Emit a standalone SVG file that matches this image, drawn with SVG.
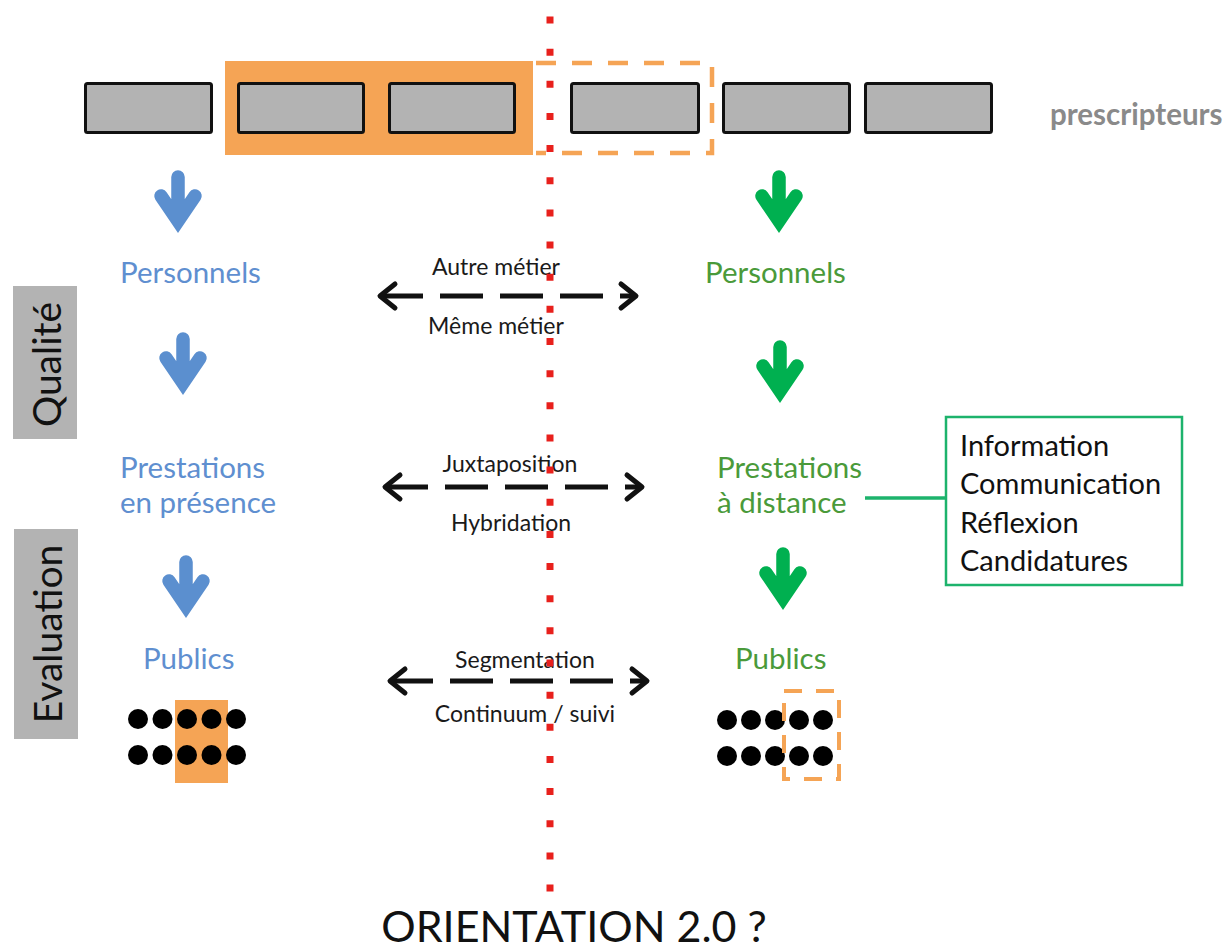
<svg xmlns="http://www.w3.org/2000/svg" width="1229" height="951" viewBox="0 0 1229 951">
<style>
.t{font-family:Lato,"Open Sans","Liberation Sans",sans-serif}
.blue{fill:#5f8fd0}
.green{fill:#4a9a3a}
.col{font-size:29.5px}
.mid{font-size:23px;fill:#1a1a1a;text-anchor:middle}
.box{font-size:29px;fill:#111}
.side{font-size:39px;fill:#111;text-anchor:middle}
.gray{fill:#b3b3b3;stroke:#111;stroke-width:3}
.dash{stroke:#111;stroke-width:5;fill:none}
.head{stroke:#111;stroke-width:5;fill:none;stroke-linejoin:round;stroke-linecap:round}
</style>
<defs>
<path id="dn" d="M0,-56 L0,-16 M-17,-37 L0,-12 L17,-37" fill="none" stroke-width="13.5" stroke-linecap="round" stroke-linejoin="miter"/>
</defs>
<rect width="1229" height="951" fill="#fff"/>

<g id="prescripteurs">
<rect x="225" y="61" width="308" height="94" fill="#f5a455"/>
<path d="M536,63 H712 V153 H536" fill="none" stroke="#f5a455" stroke-width="4.5" stroke-dasharray="20 16"/>
<rect class="gray" x="85.5" y="83.5" width="126" height="49" rx="2"/>
<rect class="gray" x="238.5" y="83.5" width="125" height="49" rx="2"/>
<rect class="gray" x="389.5" y="83.5" width="125" height="49" rx="2"/>
<rect class="gray" x="571.5" y="83.5" width="127" height="49" rx="2"/>
<rect class="gray" x="723.5" y="83.5" width="126" height="49" rx="2"/>
<rect class="gray" x="865.5" y="83.5" width="126" height="49" rx="2"/>
<text class="t" x="1050" y="125" font-size="29.5" font-weight="bold" fill="#8a8a8a">prescripteurs</text>
</g>

<g id="qualite">
<rect x="13" y="286" width="64" height="153" fill="#b3b3b3"/>
<text class="t side" transform="translate(61,364.5) rotate(-90)">Qualité</text>
</g>
<g id="evaluation">
<rect x="14" y="529" width="64" height="210" fill="#b3b3b3"/>
<text class="t side" transform="translate(62,634) rotate(-90)">Evaluation</text>
</g>

<g id="left-personnels"><text class="t col blue" x="120" y="283">Personnels</text></g>
<g id="left-prestations"><text class="t col blue" x="120" y="478">Prestations</text><text class="t col blue" x="120" y="513">en présence</text></g>
<g id="left-publics">
<text class="t col blue" x="143" y="669">Publics</text>
<rect x="175" y="700" width="53" height="83" fill="#f5a455"/>
<g fill="#000">
<circle cx="138" cy="719" r="10"/><circle cx="162.5" cy="719" r="10"/><circle cx="187" cy="719" r="10"/><circle cx="211.5" cy="719" r="10"/><circle cx="236" cy="719" r="10"/>
<circle cx="138" cy="755" r="10"/><circle cx="162.5" cy="755" r="10"/><circle cx="187" cy="755" r="10"/><circle cx="211.5" cy="755" r="10"/><circle cx="236" cy="755" r="10"/>
</g>
</g>

<g id="right-personnels"><text class="t col green" x="705" y="283">Personnels</text></g>
<g id="right-prestations"><text class="t col green" x="717" y="478">Prestations</text><text class="t col green" x="717" y="513">à distance</text></g>
<g id="right-publics">
<text class="t col green" x="735" y="669">Publics</text>
<g fill="#000">
<circle cx="727" cy="720" r="10"/><circle cx="751" cy="720" r="10"/><circle cx="775" cy="720" r="10"/><circle cx="799" cy="720" r="10"/><circle cx="823" cy="720" r="10"/>
<circle cx="727" cy="756" r="10"/><circle cx="751" cy="756" r="10"/><circle cx="775" cy="756" r="10"/><circle cx="799" cy="756" r="10"/><circle cx="823" cy="756" r="10"/>
</g>
<rect x="784" y="691" width="55" height="88" fill="none" stroke="#f5a455" stroke-width="4" stroke-dasharray="18 14"/>
</g>

<g id="activites">
<rect x="946" y="417" width="236" height="168" fill="#fff" stroke="#1db36c" stroke-width="2.5"/>
<text class="t box" x="960" y="456">Information</text>
<text class="t box" x="960" y="494">Communication</text>
<text class="t box" x="960" y="533">Réflexion</text>
<text class="t box" x="960" y="571">Candidatures</text>
</g>

<g id="connectors">
<use href="#dn" x="178" y="233" stroke="#5b8fcf"/>
<use href="#dn" x="183" y="395" stroke="#5b8fcf"/>
<use href="#dn" x="186" y="618" stroke="#5b8fcf"/>
<use href="#dn" x="779" y="233" stroke="#00b050"/>
<use href="#dn" x="780" y="403" stroke="#00b050"/>
<use href="#dn" x="783" y="610" stroke="#00b050"/>
<line x1="865" y1="498" x2="946" y2="498" stroke="#1db36c" stroke-width="3.5"/>

<line class="dash" x1="380" y1="296" x2="636" y2="296" stroke-dasharray="43 17"/>
<polyline class="head" points="395,284 380,296 395,308"/>
<polyline class="head" points="621,284 636,296 621,308"/>
<text class="t mid" x="496" y="275">Autre métier</text>
<text class="t mid" x="496" y="334">Même métier</text>

<line class="dash" x1="385" y1="487" x2="642" y2="487" stroke-dasharray="43 17"/>
<polyline class="head" points="400,475 385,487 400,499"/>
<polyline class="head" points="627,475 642,487 627,499"/>
<text class="t mid" x="510" y="472">Juxtaposition</text>
<text class="t mid" x="511" y="531">Hybridation</text>

<line class="dash" x1="390" y1="681" x2="647" y2="681" stroke-dasharray="43 17"/>
<polyline class="head" points="405,669 390,681 405,693"/>
<polyline class="head" points="632,669 647,681 632,693"/>
<text class="t mid" x="525" y="668">Segmentation</text>
<text class="t mid" x="525" y="722">Continuum / suivi</text>
</g>

<g id="separateur">
<line x1="550" y1="16.5" x2="550" y2="891.5" stroke="#e8201c" stroke-width="7" stroke-dasharray="7 25.15"/>
</g>

<g id="titre">
<text class="t" x="574" y="942" font-size="43" fill="#111" text-anchor="middle">ORIENTATION 2.0 ?</text>
</g>
</svg>
